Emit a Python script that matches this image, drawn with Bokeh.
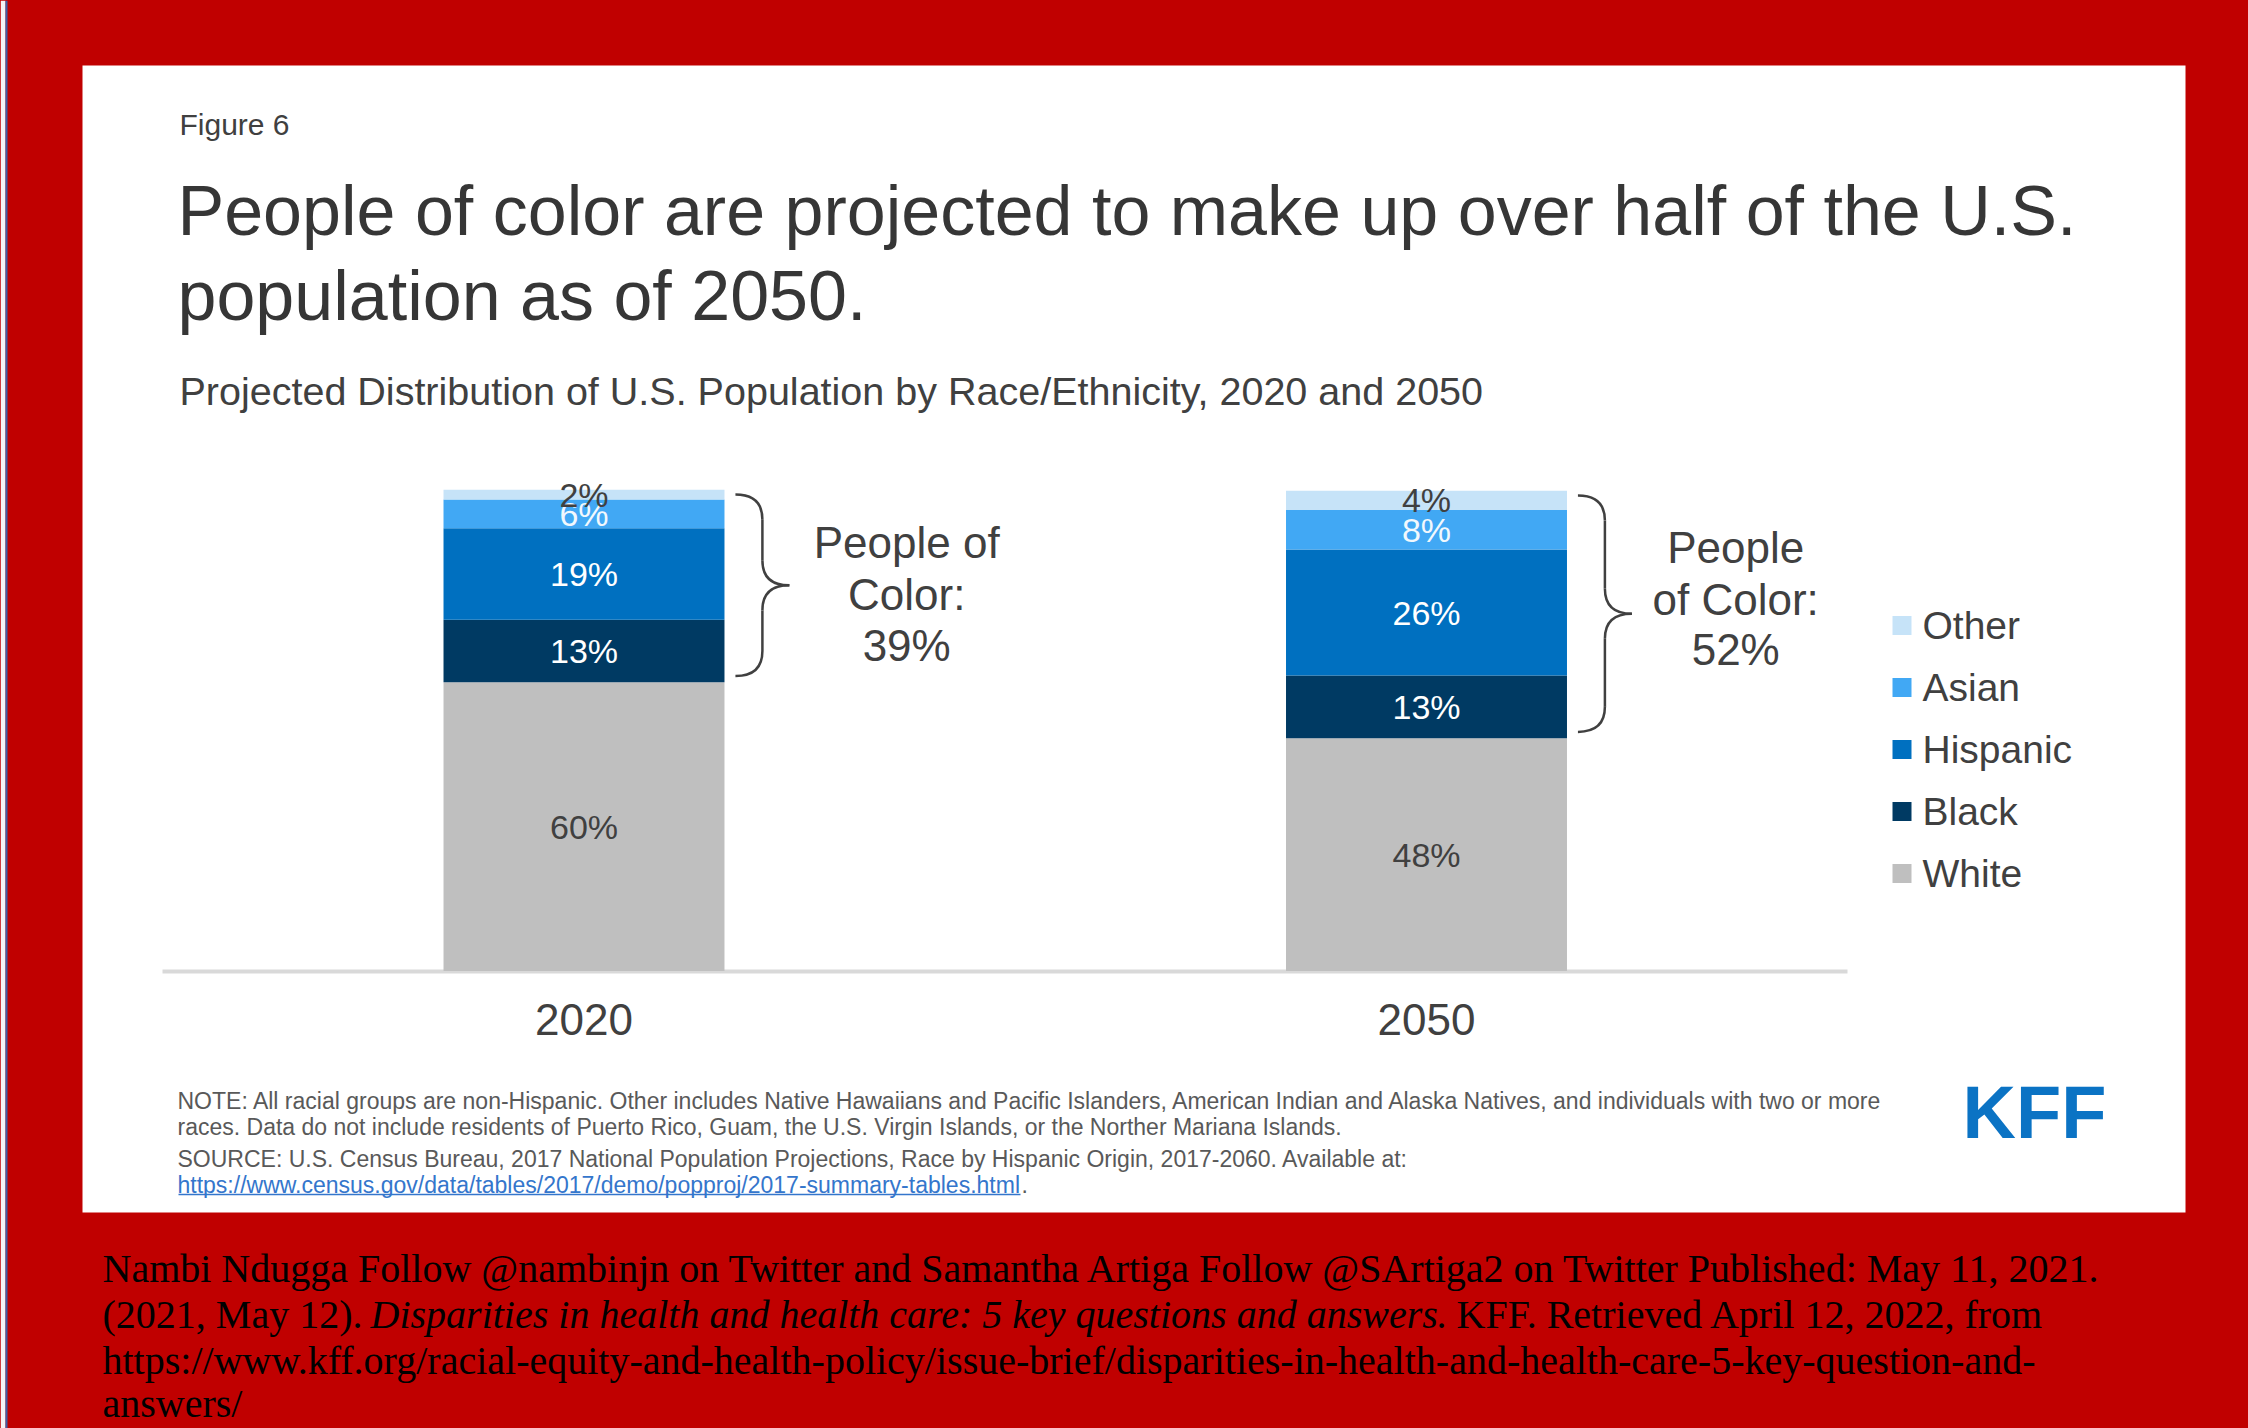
import numpy as np
from bokeh.plotting import figure
from bokeh.models import Range1d, ColumnDataSource
from bokeh.core.properties import value
from bokeh.embed import file_html
from bokeh.resources import INLINE

# ---------------- data ----------------
years = ["2020", "2050"]
groups = ["White", "Black", "Hispanic", "Asian", "Other"]      # stack order, bottom -> top
white = [60, 48.4]
black = [13, 13.0]
hispanic = [19, 26.2]
asian = [6, 8.2]
other = [2, 4.0]
poc_share = [39, 52]
poc_lines = [["People of", "Color:"], ["People", "of Color:"]]
colors = ["#bfbfbf", "#003a63", "#0070c0", "#41a8f4", "#c6e3f8"]
label_colors = ["#404040", "#ffffff", "#ffffff", "#f2f8fd", "#404040"]

title_lines = ["People of color are projected to make up over half of the U.S.",
               "population as of 2050."]
subtitle = "Projected Distribution of U.S. Population by Race/Ethnicity, 2020 and 2050"
note_lines = [
    "NOTE: All racial groups are non-Hispanic. Other includes Native Hawaiians  and Pacific  Islanders, American Indian and Alaska Natives, and individuals with two or more",
    "races. Data do not include residents of Puerto Rico, Guam, the U.S. Virgin Islands, or the Norther Mariana Islands.",
    "SOURCE:  U.S. Census Bureau, 2017 National Population Projections, Race by Hispanic Origin, 2017-2060. Available at:",
]
link_text = "https://www.census.gov/data/tables/2017/demo/popproj/2017-summary-tables.html"
cite_line1 = "Nambi Ndugga Follow @nambinjn on Twitter and Samantha Artiga Follow @SArtiga2 on Twitter Published: May 11, 2021."
cite_line2 = ["(2021, May 12). ", "Disparities in health and health care: 5 key questions and answers", ". KFF. Retrieved April 12, 2022, from"]
cite_line3 = "https://www.kff.org/racial-equity-and-health-policy/issue-brief/disparities-in-health-and-health-care-5-key-question-and-"
cite_line4 = "answers/"

# ---------------- layout ----------------
RED = "#c00000"
FONT = "Liberation Sans"
SERIF = "Liberation Serif"
DARK = "#404040"
W, H = 2248, 1428                     # canvas == page coordinates
X0_PX, DX_PX = 583.5, 842.5           # pixel centre of first bar, distance between bars
BASE_PX, PX_PER_PCT = 970.6, 4.813    # pixel of 0 %, pixels per percent
BAR_W = 0.3335
POC_DX = [0.383, 0.367]
POC_Y = [[542, 594, 645], [547, 599, 649]]

p = figure(width=W, height=H,
           x_range=Range1d(0, W), y_range=Range1d(H, 0),
           output_backend="svg", toolbar_location=None,
           x_axis_location=None, y_axis_location=None,
           min_border=0, outline_line_color=None,
           background_fill_color=RED, border_fill_color=RED)
p.xgrid.visible = False
p.ygrid.visible = False
p.extra_x_ranges = {"idx": Range1d((0 - X0_PX) / DX_PX, (W - X0_PX) / DX_PX)}
p.extra_y_ranges = {"pct": Range1d((BASE_PX - H) / PX_PER_PCT, (BASE_PX - 0) / PX_PER_PCT)}

# page edge + white panel
p.quad(left=[0, 5], right=[5, 7], top=[0, 0], bottom=[H, H], fill_color=["#f4f4f6", "#3d5fa5"], line_color=None)
p.quad(left=82, right=2185, top=65, bottom=1212, fill_color="white", line_color=None)

mid = dict(text_baseline="middle", text_font=value(FONT))

# header texts
p.text(x=[179], y=[124], text=["Figure 6"], text_font_size="30px", text_color=DARK, **mid)
p.text(x=[177, 177], y=[210, 295], text=title_lines, text_font_size="70px", text_color="#363636", **mid)
p.text(x=[179], y=[390], text=[subtitle], text_font_size="39.5px", text_color=DARK, **mid)

# baseline
p.segment(x0=[162], y0=[971], x1=[1847], y1=[971], line_color="#d9d9d9", line_width=4)

# stacked bars
xs = list(range(len(years)))
src = ColumnDataSource(dict(x=xs, White=white, Black=black, Hispanic=hispanic, Asian=asian, Other=other))
p.vbar_stack(groups, x="x", width=BAR_W, fill_color=colors, line_color=None, source=src,
             x_range_name="idx", y_range_name="pct")

# segment labels
series = [white, black, hispanic, asian, other]
lx, ly, lt, lc = [], [], [], []
for j in xs:
    vals = np.array([s[j] for s in series], dtype=float)
    tops = np.cumsum(vals)
    mids = tops - vals / 2
    for k in range(len(groups)):
        lx.append(j)
        ly.append(mids[k])
        lt.append(f"{vals[k]:.0f}%")
        lc.append(label_colors[k])
p.text(x=lx, y=ly, text=lt, text_color=lc, x_range_name="idx", y_range_name="pct",
       text_align="center", text_font_size="34px", **mid)

# category labels
p.text(x=xs, y=[1019] * len(xs), text=years, x_range_name="idx", text_align="center",
       text_font_size="44px", text_color=DARK, **mid)

# braces + people of color labels
half = BAR_W / 2
r = 5.2
for j in xs:
    total = sum(s[j] for s in series)
    yt = total - 1.0
    yb = white[j] + 1.3
    ym = (yt + yb) / 2
    xe, xsp, xt = j + half + 0.013, j + half + 0.045, j + half + 0.077
    kw = dict(line_color=DARK, line_width=2.5, x_range_name="idx", y_range_name="pct")
    p.quadratic(x0=[xe, xsp, xt, xsp], y0=[yt, ym + r, ym, yb + r],
                x1=[xsp, xt, xsp, xe], y1=[yt - r, ym, ym - r, yb],
                cx=[xsp, xsp, xsp, xsp], cy=[yt, ym, ym, yb], **kw)
    p.segment(x0=[xsp, xsp], y0=[yt - r, ym - r], x1=[xsp, xsp], y1=[ym + r, yb + r], **kw)
    lines = poc_lines[j] + [f"{poc_share[j]}%"]
    p.text(x=[j + POC_DX[j]] * 3, y=POC_Y[j], text=lines, x_range_name="idx",
           text_align="center", text_font_size="44px", text_color=DARK, **mid)

# legend
legend_names = groups[::-1]
legend_colors = colors[::-1]
rows = [625 + 62 * i for i in range(len(legend_names))]
p.rect(x=[1901.5] * len(rows), y=rows, width=19, height=19, fill_color=legend_colors, line_color=None)
p.text(x=[1922] * len(rows), y=rows, text=legend_names, text_font_size="39px", text_color=DARK, **mid)

# notes
p.text(x=[177] * 3, y=[1100, 1126, 1158], text=note_lines, text_font_size="23px", text_color="#595959", **mid)
p.text(x=[177], y=[1184], text=[link_text], text_font_size="23px", text_color="#3476cc", **mid)
p.segment(x0=[178], y0=[1194], x1=[1020], y1=[1194], line_color="#3476cc", line_width=1.5)
p.text(x=[1021], y=[1184], text=["."], text_font_size="23px", text_color="#595959", **mid)

# KFF logo
p.text(x=[2034], y=[1112], text=["KFF"], text_align="center", text_font_style="bold",
       text_font_size="74px", text_color="#0b73c4", **mid)

# citation
ckw = dict(text_baseline="middle", text_font=value(SERIF), text_font_size="40px", text_color="#000000")
p.text(x=[102], y=[1268], text=[cite_line1], **ckw)
p.text(x=[102], y=[1314], text=[cite_line2[0]], **ckw)
p.text(x=[370], y=[1314], text=[cite_line2[1]], text_font_style="italic", **ckw)
p.text(x=[1436], y=[1314], text=[cite_line2[2]], **ckw)
p.text(x=[102], y=[1360], text=[cite_line3], **ckw)
p.text(x=[102], y=[1403], text=[cite_line4], **ckw)

html = file_html(p, INLINE, title="People of color projection")
html = html.replace("<head>", "<head><style>html, body { background: #c00000; }</style>", 1)
open("out.html", "w").write(html)
